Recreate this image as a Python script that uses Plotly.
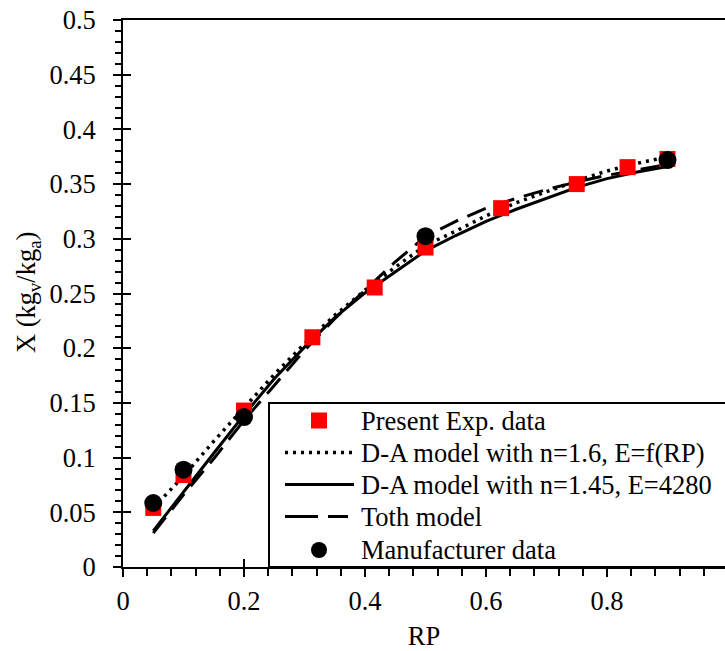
import plotly.graph_objects as go

# ---- data ----
exp_rp = [0.05, 0.10, 0.20, 0.313, 0.416, 0.50, 0.625, 0.75, 0.834, 0.90]
exp_x = [0.054, 0.084, 0.143, 0.210, 0.2555, 0.292, 0.328, 0.350, 0.3655, 0.373]

man_rp = [0.05, 0.10, 0.20, 0.50, 0.90]
man_x = [0.0585, 0.089, 0.137, 0.3024, 0.372]

model_rp = [0.05, 0.10, 0.15, 0.20, 0.25, 0.30, 0.35, 0.40, 0.45, 0.50,
            0.55, 0.60, 0.65, 0.70, 0.75, 0.80, 0.85, 0.90]
da16_x = [0.054, 0.083, 0.115, 0.146, 0.176, 0.204, 0.230, 0.253, 0.274, 0.294,
          0.307, 0.321, 0.333, 0.343, 0.353, 0.362, 0.369, 0.375]
da145_x = [0.033, 0.069, 0.104, 0.139, 0.172, 0.201, 0.228, 0.2505, 0.270, 0.289,
           0.303, 0.316, 0.327, 0.337, 0.347, 0.355, 0.361, 0.366]
toth_x = [0.031, 0.066, 0.099, 0.134, 0.166, 0.198, 0.227, 0.253, 0.279, 0.302,
          0.316, 0.328, 0.337, 0.345, 0.352, 0.358, 0.363, 0.368]

x_ticks = [0, 0.2, 0.4, 0.6, 0.8, 1.0]
x_labels = ["0", "0.2", "0.4", "0.6", "0.8", "1"]
y_ticks = [0, 0.05, 0.1, 0.15, 0.2, 0.25, 0.3, 0.35, 0.4, 0.45, 0.5]
y_labels = ["0", "0.05", "0.1", "0.15", "0.2", "0.25", "0.3", "0.35", "0.4", "0.45", "0.5"]

legend_names = ["Present Exp. data", "D-A model with n=1.6, E=f(RP)",
                "D-A model with n=1.45, E=4280", "Toth model", "Manufacturer data"]
x_title = "RP"
y_title = "X (kg<sub>v</sub>/kg<sub>a</sub>)"

FONT = "Liberation Serif"
FS = 26.5
DOT = "3px,5px"
DASH = "20px,10px"
PAD = "\u2008\u2009"  # small gap between y tick labels and the axis

fig = go.Figure()
fig.add_trace(go.Scatter(x=model_rp, y=da16_x, mode="lines", name=legend_names[1],
                         line=dict(color="black", width=3.5, dash=DOT)))
fig.add_trace(go.Scatter(x=model_rp, y=da145_x, mode="lines", name=legend_names[2],
                         line=dict(color="black", width=3)))
fig.add_trace(go.Scatter(x=model_rp, y=toth_x, mode="lines", name=legend_names[3],
                         line=dict(color="black", width=3, dash=DASH)))
fig.add_trace(go.Scatter(x=exp_rp, y=exp_x, mode="markers", name=legend_names[0],
                         marker=dict(symbol="square", color="#ff0000", size=16,
                                     line=dict(width=0))))
fig.add_trace(go.Scatter(x=man_rp, y=man_x, mode="markers", name=legend_names[4],
                         marker=dict(symbol="circle", color="black", size=18,
                                     line=dict(width=0))))
# invisible trace for the overlay axes (inner halves of major ticks)
fig.add_trace(go.Scatter(x=[0], y=[0], xaxis="x2", yaxis="y2", mode="markers",
                         marker=dict(opacity=0), showlegend=False, hoverinfo="skip"))

# ---- plot-area geometry (pixels) ----
W, H = 725, 651
L, T, B = 123, 20, 84
PW, PH = W - L, H - T - B


def px(xp):
    return (xp - L) / PW


def py(yp):
    return (T + PH - yp) / PH


# ---- legend box drawn in paper coordinates ----
shapes = [dict(type="rect", xref="paper", yref="paper", layer="above",
               x0=px(269), x1=px(732), y0=py(567), y1=py(403),
               fillcolor="white", line=dict(color="black", width=2))]
rows = [420.5, 452.5, 484.5, 516.5, 550]
shapes.append(dict(type="rect", xref="paper", yref="paper", layer="above",
                   x0=px(311), x1=px(327), y0=py(rows[0] + 8), y1=py(rows[0] - 8),
                   fillcolor="#ff0000", line=dict(width=0)))
shapes.append(dict(type="line", xref="paper", yref="paper", layer="above",
                   x0=px(285), x1=px(354), y0=py(rows[1]), y1=py(rows[1]),
                   line=dict(color="black", width=3.5, dash=DOT)))
shapes.append(dict(type="line", xref="paper", yref="paper", layer="above",
                   x0=px(285), x1=px(354), y0=py(rows[2]), y1=py(rows[2]),
                   line=dict(color="black", width=3)))
shapes.append(dict(type="line", xref="paper", yref="paper", layer="above",
                   x0=px(285), x1=px(348), y0=py(rows[3]), y1=py(rows[3]),
                   line=dict(color="black", width=3, dash="33px,10px")))
shapes.append(dict(type="circle", xref="paper", yref="paper", layer="above",
                   x0=px(311), x1=px(327), y0=py(rows[4] + 8), y1=py(rows[4] - 8),
                   fillcolor="black", line=dict(width=0)))

annotations = [dict(text=name, xref="paper", yref="paper", x=px(359), y=py(r),
                    xanchor="left", yanchor="middle", showarrow=False,
                    font=dict(family=FONT, size=FS, color="black"))
               for name, r in zip(legend_names, rows)]
# y-axis title
annotations.append(dict(text=y_title, xref="paper", yref="paper", x=px(28), y=py(293),
                        xanchor="center", yanchor="middle", textangle=-90, showarrow=False,
                        font=dict(family=FONT, size=FS, color="black")))

XMAX = PW / 605.0
axis_common = dict(showgrid=False, zeroline=False, linecolor="black", linewidth=2,
                   tickcolor="black", tickwidth=2, automargin=False,
                   tickfont=dict(family=FONT, size=FS, color="black"))

fig.update_layout(
    width=W, height=H,
    margin=dict(l=L, r=0, t=T, b=B, autoexpand=False),
    paper_bgcolor="white", plot_bgcolor="white",
    font=dict(family=FONT, size=FS, color="black"),
    showlegend=False,
    shapes=shapes,
    annotations=annotations,
    xaxis=dict(range=[0, XMAX], tickvals=x_ticks, ticktext=x_labels,
               ticks="outside", ticklen=8, showline=True, mirror=True,
               ticklabelstandoff=1,
               minor=dict(dtick=0.04, tick0=0, ticks="outside", ticklen=7,
                          tickcolor="black", tickwidth=2),
               title=dict(text=x_title, font=dict(family=FONT, size=FS), standoff=14),
               **axis_common),
    yaxis=dict(range=[0, 0.5], tickvals=y_ticks, ticktext=[t + PAD for t in y_labels],
               ticks="outside", ticklen=8, showline=True, mirror=False,
               minor=dict(dtick=0.01, tick0=0, ticks="outside", ticklen=6,
                          tickcolor="black", tickwidth=2),
               **axis_common),
    xaxis2=dict(range=[0, XMAX], overlaying="x", tickvals=x_ticks, ticks="inside", ticklen=8,
                tickcolor="black", tickwidth=2, showticklabels=False, showgrid=False,
                zeroline=False, showline=False, side="bottom", automargin=False),
    yaxis2=dict(range=[0, 0.5], overlaying="y", tickvals=y_ticks, ticks="inside", ticklen=8,
                tickcolor="black", tickwidth=2, showticklabels=False, showgrid=False,
                zeroline=False, showline=False, side="left", automargin=False),
)

fig.write_html("out.html", config={"displayModeBar": False},
               post_script="document.body.style.margin='0';")
